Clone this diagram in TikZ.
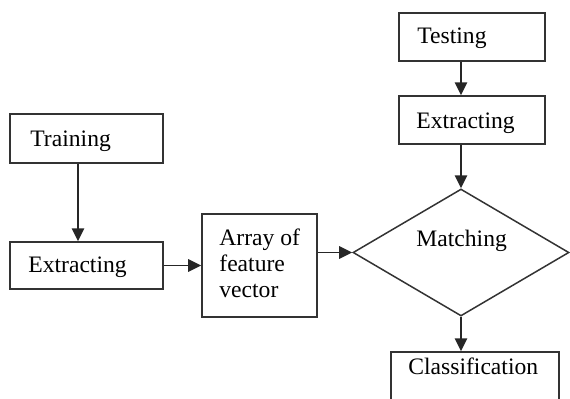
\documentclass[tikz,border=0pt]{standalone}
\usepackage{fontspec}
\setmainfont{Liberation Serif}
\usetikzlibrary{shapes.geometric,arrows.meta}
\begin{document}
\begin{tikzpicture}[x=0.5pt,y=-0.5pt,
  every node/.style={font=\fontsize{11.8pt}{13pt}\selectfont},
  box/.style={draw=black!80,line width=0.75pt,inner sep=0pt,rectangle},
  lbl/.style={anchor=base west,inner sep=0pt},
  arr/.style={draw=black!85,line width=0.8pt,-{Triangle[length=6.5pt,width=6.2pt]}}]
\clip (0,0) rectangle (570,398);
\useasboundingbox (0,0) rectangle (570,398);
% boxes
\node[box,minimum width=73pt,minimum height=24pt] (test) at (472,37) {};
\node[box,minimum width=73pt,minimum height=24pt] (extR) at (472,120) {};
\node[box,minimum width=76.5pt,minimum height=24.5pt] (train) at (86.5,138.5) {};
\node[box,minimum width=76.5pt,minimum height=23.5pt] (extL) at (86.5,265.5) {};
\node[box,minimum width=57.5pt,minimum height=51.5pt] (array) at (259.5,265.5) {};
\node[draw=black!80,line width=0.75pt,shape=diamond,inner sep=0pt,minimum width=108pt,minimum height=63.5pt] (match) at (461,252.5) {};
\node[box,minimum width=84pt,minimum height=29pt] (class) at (475,381) {};
% labels
\node[lbl] (tTest) at (417,43) {Testing};
\node[lbl] (tExtR) at (416,128) {Extracting};
\node[lbl] (tTrain) at (30,146) {Training};
\node[lbl] (tExtL) at (28,272) {Extracting};
\node[lbl] (tArr1) at (219,245) {Array of};
\node[lbl] (tArr2) at (219,271) {feature};
\node[lbl] (tArr3) at (219,297) {vector};
\node[lbl] (tMatch) at (416,246) {Matching};
\node[lbl] (tClass) at (408,374) {Classification};
% connectors
\draw[arr] ([xshift=-5.5pt]test.south) -- ([xshift=-5.5pt]extR.north);
\draw[arr] ([xshift=-5.5pt]extR.south) -- (match.north);
\draw[arr] ([xshift=-4.25pt]train.south) -- ([xshift=-4.25pt]extL.north);
\draw[arr] (extL.east) -- (array.west);
\draw[arr] (array.east |- match.west) -- (match.west);
\draw[arr] (match.south) -- (match.south |- class.north);
\end{tikzpicture}
\end{document}
